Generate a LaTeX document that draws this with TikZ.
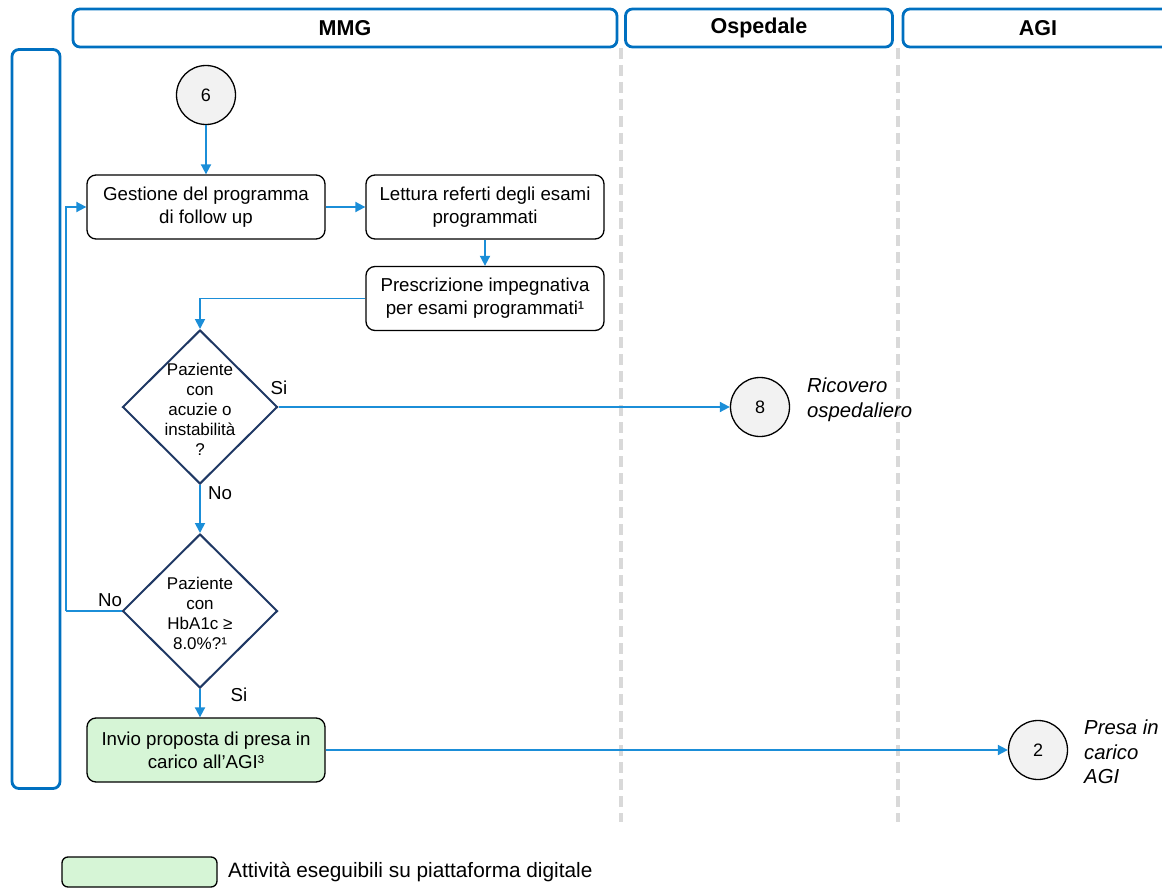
\documentclass[tikz,border=0pt]{standalone}
\usepackage{fontspec}
\setmainfont{Liberation Sans}
\usetikzlibrary{shapes.geometric,arrows.meta}

\definecolor{laneblue}{RGB}{0,112,192}
\definecolor{flowblue}{RGB}{27,142,216}
\definecolor{decnavy}{RGB}{31,56,100}
\definecolor{circfill}{RGB}{242,242,242}
\definecolor{digigreen}{RGB}{214,245,214}
\definecolor{lanegray}{RGB}{217,217,217}

\begin{document}
\begin{tikzpicture}[x=1pt,y=-1pt,
  lanehead/.style={draw=laneblue, line width=2.8pt, rounded corners=7pt, inner sep=0pt,
    font=\fontsize{21.5}{25}\selectfont\bfseries},
  laneline/.style={draw=lanegray, line width=3.5pt, dash pattern=on 11pt off 6pt},
  task/.style={draw=black, line width=1.3pt, rounded corners=9pt, fill=white,
    minimum width=238pt, minimum height=64pt, align=center, inner sep=0pt,
    font=\fontsize{18.7}{23}\selectfont},
  digital/.style={task, fill=digigreen},
  stepcirc/.style={circle, draw=black, line width=1.3pt, fill=circfill,
    minimum size=59pt, inner sep=0pt, font=\fontsize{18}{22}\selectfont},
  decision/.style={diamond, draw=decnavy, line width=2pt, minimum width=155pt,
    minimum height=154pt, inner sep=0pt},
  dectext/.style={align=center, inner sep=0pt, font=\fontsize{17}{20}\selectfont},
  branch/.style={inner sep=0pt, font=\fontsize{18.7}{22}\selectfont},
  outtext/.style={anchor=north west, align=left, inner sep=0pt,
    font=\fontsize{20.3}{24.5}\selectfont\itshape},
  flow/.style={draw=flowblue, line width=1.8pt, -{Triangle[length=10pt,width=10pt]}},
  plain/.style={draw=flowblue, line width=1.8pt}
]
\useasboundingbox (0,0) rectangle (1162,888);

% lane headers and the side bar
\node[lanehead, minimum width=544pt, minimum height=38pt] (hmmg) at (345,28) {MMG};
\node[lanehead, minimum width=267pt, minimum height=38pt] (hosp) at (759,28) {Ospedale};
\node[lanehead, minimum width=270pt, minimum height=38pt] (hagi) at (1038,28) {AGI};
\node[lanehead, minimum width=48pt, minimum height=739pt] (side) at (36,419) {};

% lane separators
\draw[laneline] (621,48) -- (621,822);
\draw[laneline] (898,48) -- (898,822);

% process steps
\node[stepcirc] (c6) at (206,95) {6};
\node[task] (gest) at (206,207) {Gestione del programma\\di follow up};
\node[task] (lett) at (485,207) {Lettura referti degli esami\\programmati};
\node[task] (presc) at (485,298.5) {Prescrizione impegnativa\\per esami programmati¹};

\node[decision] (d1) at (200,407) {};
\node[dectext] (d1t) at (200,409) {Paziente\\con\\acuzie o\\instabilità\\?};
\node[stepcirc] (c8) at (760,407) {8};
\node[outtext] (t8) at (807,378) {Ricovero\\ospedaliero};

\node[decision] (d2) at (200,611) {};
\node[dectext] (d2t) at (200,613) {Paziente\\con\\HbA1c ≥\\8.0\%?¹};

\node[digital] (inv) at (206,750) {Invio proposta di presa in\\carico all’AGI³};
\node[stepcirc] (c2) at (1038,750) {2};
\node[outtext] (t2) at (1084,720) {Presa in\\carico\\AGI};

% branch labels
\node[branch] (si1) at (279,388) {Si};
\node[branch] (no1) at (220,493) {No};
\node[branch] (no2) at (110,600) {No};
\node[branch] (si2) at (239,695) {Si};

% connectors
\coordinate (loop) at (66,611);
\draw[flow] (c6) -- (gest);
\draw[flow] (gest) -- (lett);
\draw[flow] (lett) -- (presc);
\draw[flow] (presc.west) -| (d1.north);
\draw[flow] (d1.east) -- (c8.west);
\draw[flow] (d1.south) -- (d2.north);
\draw[plain] (d2.west) -- (loop);
\draw[flow] (loop) |- (gest.west);
\draw[flow] (d2.south) -- (d2.south |- inv.north);
\draw[flow] (inv.east) -- (c2.west);

% legend
\node[draw=black, line width=1.3pt, rounded corners=6pt, fill=digigreen,
  minimum width=155pt, minimum height=30pt, inner sep=0pt] (legbox) at (139.5,872) {};
\node[anchor=west, inner sep=0pt, font=\fontsize{20.8}{24}\selectfont] (legtext) at (228,872)
  {Attività eseguibili su piattaforma digitale};
\end{tikzpicture}
\end{document}
